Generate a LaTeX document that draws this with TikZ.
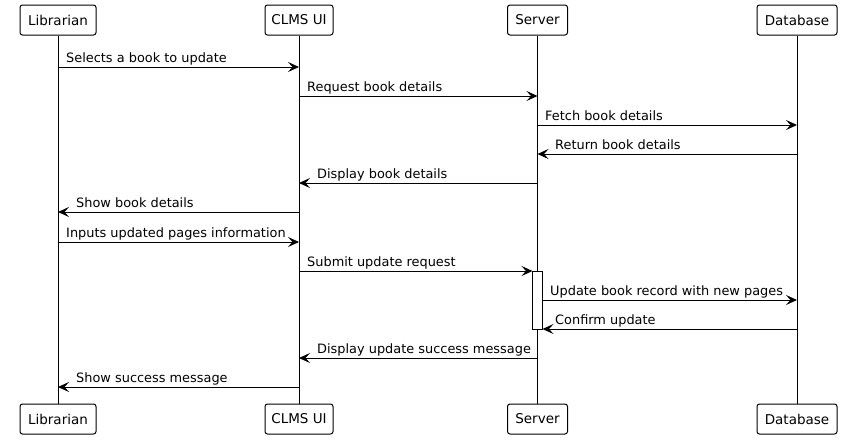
\documentclass[tikz,border=0pt]{standalone}
\usepackage{fontspec}
\setmainfont{DejaVu Sans}
\usetikzlibrary{arrows.meta}
\begin{document}
\begin{tikzpicture}[x=1pt,y=-1pt,
  part/.style={draw,line width=1pt,rounded corners=2.5pt,fill=white,minimum height=30pt,inner sep=0pt,font=\fontsize{13.5}{15}\selectfont},
  life/.style={line width=1pt},
  msg/.style={line width=1pt,-{Stealth[length=11pt,width=10pt,inset=4.5pt]}},
  lbl/.style={anchor=base west,inner sep=0pt,font=\fontsize{12.9}{14}\selectfont},
  actbox/.style={draw,line width=1pt,fill=white}]
\useasboundingbox (0,0) rectangle (843,440);
% participants top
\node[part,minimum width=76pt] (Lt) at (58,20) {Librarian};
\node[part,minimum width=68pt] (Ut) at (299,20) {CLMS UI};
\node[part,minimum width=60pt] (St) at (537.5,20) {Server};
\node[part,minimum width=80pt] (Dt) at (797,20) {Database};
% participants bottom
\node[part,minimum width=76pt] (Lb) at (58,419) {Librarian};
\node[part,minimum width=68pt] (Ub) at (299,419) {CLMS UI};
\node[part,minimum width=60pt] (Sb) at (537.5,419) {Server};
\node[part,minimum width=80pt] (Db) at (797,419) {Database};
% lifelines
\draw[life] (Lt) -- (Lb);
\draw[life] (Ut) -- (Ub);
\draw[life] (St) -- (Sb);
\draw[life] (Dt) -- (Db);
% activation
\node[actbox,minimum width=10pt,minimum height=58pt,inner sep=0pt,anchor=north] (act) at (537.5,271) {};
% message coordinates
\coordinate (L1) at (58,67);  \coordinate (U1) at (299,67);
\coordinate (U2) at (299,96); \coordinate (S2) at (537.5,96);
\coordinate (S3) at (537.5,125); \coordinate (D3) at (797,125);
\coordinate (D4) at (797,154); \coordinate (S4) at (537.5,154);
\coordinate (S5) at (537.5,183); \coordinate (U5) at (299,183);
\coordinate (U6) at (299,212); \coordinate (L6) at (58,212);
\coordinate (L7) at (58,242); \coordinate (U7) at (299,242);
\coordinate (U8) at (299,271); \coordinate (A8) at (532.5,271);
\coordinate (A9) at (542.5,300); \coordinate (D9) at (797,300);
\coordinate (D10) at (797,329); \coordinate (A10) at (542.5,329);
\coordinate (S11) at (537.5,358); \coordinate (U11) at (299,358);
\coordinate (U12) at (299,387); \coordinate (L12) at (58,387);
% messages
\draw[msg] (L1) -- (U1);
\node[lbl] (m1) at (66,62) {Selects a book to update};
\draw[msg] (U2) -- (S2);
\node[lbl] (m2) at (307,91) {Request book details};
\draw[msg] (S3) -- (D3);
\node[lbl] (m3) at (545,120) {Fetch book details};
\draw[msg] (D4) -- (S4);
\node[lbl] (m4) at (555,149) {Return book details};
\draw[msg] (S5) -- (U5);
\node[lbl] (m5) at (317,178) {Display book details};
\draw[msg] (U6) -- (L6);
\node[lbl] (m6) at (76,207) {Show book details};
\draw[msg] (L7) -- (U7);
\node[lbl] (m7) at (66,237) {Inputs updated pages information};
\draw[msg] (U8) -- (A8);
\node[lbl] (m8) at (307,266) {Submit update request};
\draw[msg] (A9) -- (D9);
\node[lbl] (m9) at (550,295) {Update book record with new pages};
\draw[msg] (D10) -- (A10);
\node[lbl] (m10) at (555,324) {Confirm update};
\draw[msg] (S11) -- (U11);
\node[lbl] (m11) at (317,353) {Display update success message};
\draw[msg] (U12) -- (L12);
\node[lbl] (m12) at (76,382) {Show success message};
\end{tikzpicture}
\end{document}
